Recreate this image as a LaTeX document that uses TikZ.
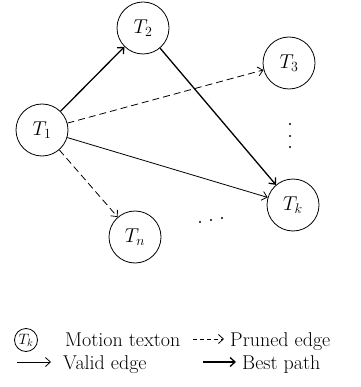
\documentclass[tikz,border=0pt]{standalone}
\usepackage{fix-cm}
\usepackage{fontspec}
\usetikzlibrary{arrows.meta}
\begin{document}
\begin{tikzpicture}[x=1pt,y=-1pt,
  font=\fontsize{20}{24}\selectfont,
  texton/.style={draw,circle,minimum size=52pt,inner sep=0pt,line width=0.8pt},
  small texton/.style={draw,circle,minimum size=23pt,inner sep=0pt,line width=0.8pt},
  tip/.style={-{Straight Barb[length=5pt,width=9pt]}},
  valid/.style={tip,line width=0.8pt},
  best/.style={tip,line width=1.3pt},
  pruned/.style={tip,line width=0.8pt,dash pattern=on 7pt off 4pt},
  lbl/.style={anchor=base west,inner sep=0pt},
  dot/.style={fill,circle,inner sep=0pt,minimum size=2.4pt}]
\useasboundingbox (0,0) rectangle (360,387);
\node[texton] (t1) at (42,130) {$T_1$};
\node[texton] (t2) at (143,28) {$T_2$};
\node[texton] (t3) at (289,63) {$T_3$};
\node[texton] (tk) at (293,205) {$T_k$};
\node[texton] (tn) at (135,237) {$T_n$};
\draw[best] (t1) -- (t2);
\draw[best] (t2) -- (tk);
\draw[pruned] (t1) -- (t3);
\draw[valid] (t1) -- (tk);
\draw[pruned] (t1) -- (tn);
\node[dot] (v1) at (290,124) {};
\node[dot] (v2) at (290,136) {};
\node[dot] (v3) at (290,147) {};
\node[dot] (h1) at (200,222) {};
\node[dot] (h2) at (211,220) {};
\node[dot] (h3) at (222,218) {};
% legend
\node[small texton,font=\fontsize{15}{18}\selectfont] (lk) at (26,340) {$T_k$};
\node[lbl] (lmt) at (65,346) {Motion texton};
\coordinate (pa) at (193,339);
\coordinate (pb) at (224,339);
\draw[pruned,dash pattern=on 4pt off 3pt] (pa) -- (pb);
\node[lbl] (lpe) at (230,346) {Pruned edge};
\coordinate (va) at (17,362);
\coordinate (vb) at (51,362);
\draw[valid] (va) -- (vb);
\node[lbl] (lve) at (63,369) {Valid edge};
\coordinate (ba) at (203,362);
\coordinate (bb) at (236,362);
\draw[best] (ba) -- (bb);
\node[lbl] (lbp) at (242,369) {Best path};
\end{tikzpicture}
\end{document}
